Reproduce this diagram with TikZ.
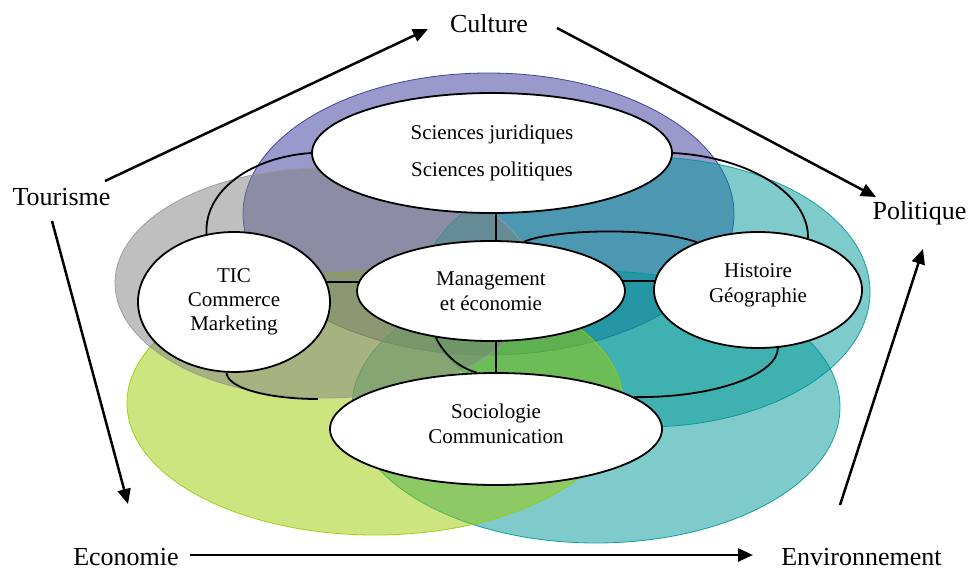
\documentclass[tikz,border=0pt]{standalone}
\usepackage{fontspec}
\setmainfont{Liberation Serif}
\usetikzlibrary{shapes.geometric,arrows.meta,calc,backgrounds}
\definecolor{cpurple}{RGB}{51,51,153}
\definecolor{cteal}{RGB}{0,151,151}
\definecolor{cyellow}{RGB}{155,203,0}
\definecolor{cgray}{RGB}{128,128,128}
\begin{document}
\begin{tikzpicture}[x=1pt,y=-1pt,
  zone/.style={fill opacity=0.5, draw opacity=0.9, line width=0.8pt},
  disc/.style={ellipse, draw=black, fill=white, line width=1.8pt, inner sep=0pt, align=center},
  ring/.style={line width=1.8pt},
  flow/.style={line width=2.5pt, -{Triangle[length=15pt,width=13pt]}},
  lbl/.style={font=\fontsize{26}{30}\selectfont, anchor=base, inner sep=0pt}]
\useasboundingbox (0,0) rectangle (970,570);

% white discipline ellipses
\node[disc, minimum width=360pt, minimum height=120pt, font=\fontsize{21}{37}\selectfont] (sci) at (492,153) {Sciences juridiques\\Sciences politiques};
\node[disc, minimum width=192pt, minimum height=140pt, font=\fontsize{21}{24}\selectfont] (tic) at (234,302) {TIC\\Commerce\\Marketing};
\node[disc, minimum width=268pt, minimum height=100pt, font=\fontsize{21}{25}\selectfont] (mgmt) at (491,291) {Management\\et économie};
\node[disc, minimum width=208pt, minimum height=116pt, font=\fontsize{21}{25}\selectfont, text depth=13.3pt] (hist) at (758,290) {Histoire\\Géographie};
\node[disc, minimum width=332pt, minimum height=112pt, font=\fontsize{21}{25}\selectfont, text depth=11.3pt] (soc) at (496,429) {Sociologie\\Communication};

% outer labels
\node[lbl] (cult) at (489,32) {Culture};
\node[lbl] (pol) at (919.5,219) {Politique};
\node[lbl] (tour) at (61.5,205.5) {Tourisme};
\node[lbl] (eco) at (126,565) {Economie};
\node[lbl] (env) at (861.5,565) {Environnement};

% arrow ends
\coordinate (t1) at (105,181);
\coordinate (c1) at (428,29);
\coordinate (c2) at (557,28);
\coordinate (p1) at (876,197);
\coordinate (t2) at (52,221);
\coordinate (e1) at (128,504);
\coordinate (e2) at (190,555);
\coordinate (v1) at (753,555);
\coordinate (v2) at (840,505);
\coordinate (p2) at (923,249);
\coordinate (ticend) at (318,399);

\draw[flow] (t1) -- (c1);
\draw[flow] (c2) -- (p1);
\draw[flow] (t2) -- (e1);
\draw[flow] (e2) -- (v1);
\draw[flow] (v2) -- (p2);

\begin{scope}[on background layer]
  \filldraw[zone, fill=cpurple, draw=cpurple] (488.5,214) ellipse [x radius=245.5, y radius=141];
  \filldraw[zone, fill=cteal, draw=cteal] (596,407) ellipse [x radius=244, y radius=136];
  \filldraw[zone, fill=cteal, draw=cteal] (645,292) ellipse [x radius=225, y radius=135];
  \filldraw[zone, fill=cyellow, draw=cyellow] (375,403) ellipse [x radius=248, y radius=132];
  \filldraw[zone, fill=cgray, draw=cgray!80] (325,283) ellipse [x radius=210, y radius=115];

  % rings between the ellipses
  \draw[ring] (sci.west) .. controls (252,157) and (204,190) .. (tic.112);
  \draw[ring] (sci.east) .. controls (749,157) and (809,194) .. (hist.46);
  \draw[ring] (tic.264) .. controls (227,388) and (268,399) .. (ticend);
  \draw[ring] (hist.289) .. controls (778,374) and (716,398) .. (soc.13);
  \draw[ring] (mgmt.56) .. controls (550,230) and (650,226) .. (hist.142);
  \draw[ring] (mgmt.220) .. controls (445,356) and (460,368) .. (soc.109);

  % straight links
  \draw[ring] ($(sci.center)+(4,0)$) -- ($(mgmt.center)+(5,0)$);
  \draw[ring] ($(mgmt.center)+(5,0)$) -- (soc.center);
  \draw[ring] ($(tic.center)+(0,-20)$) -- ($(mgmt.center)+(0,-9)$);
  \draw[ring] ($(mgmt.center)+(0,-10)$) -- ($(hist.center)+(0,-9)$);
\end{scope}
\end{tikzpicture}
\end{document}
